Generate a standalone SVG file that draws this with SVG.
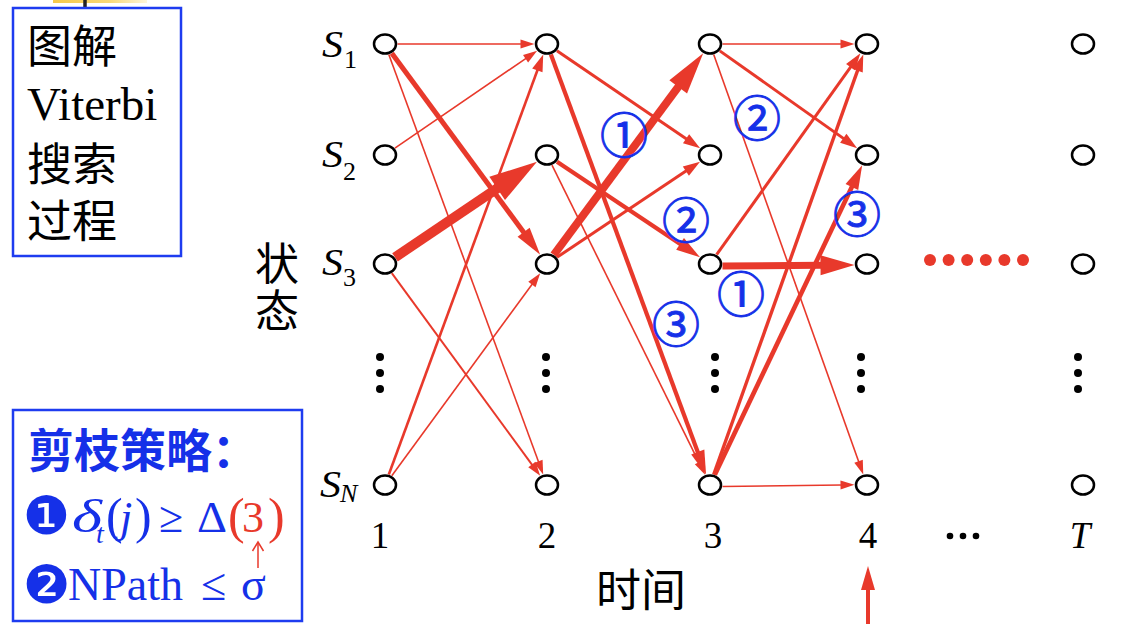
<svg xmlns="http://www.w3.org/2000/svg" width="1134" height="644" viewBox="0 0 1134 644">
<style>
.nd{fill:#fff;stroke:#000;stroke-width:2.5}
.e{fill:none;stroke:#E8392B;stroke-linecap:butt}
.t1{stroke-width:1.6;marker-end:url(#mt)}
.t2{stroke-width:3;marker-end:url(#mm)}
.t3{stroke-width:4.2;marker-end:url(#mk)}
.ser{font-family:"Liberation Serif","Times New Roman",serif}
.it{font-style:italic}
.cjk{font-family:"Noto Sans CJK SC","Noto Sans CJK JP",sans-serif}
.blue{fill:#1530E8}
.red{fill:#E8392B}
.cn{font-family:"Noto Sans CJK SC",sans-serif;font-size:48px;fill:#1530E8;stroke:#1530E8;stroke-width:0.9;text-anchor:middle}
.dot{fill:#000}
.box{fill:none;stroke:#1E3CF0;stroke-width:2.5}
.sl{font-size:38px}
.sub{font-size:26px}
</style>
<defs>
<linearGradient id="yg" x1="0" x2="1" y1="0" y2="0">
<stop offset="0" stop-color="#F6C94A"/><stop offset="0.6" stop-color="#F8D878"/><stop offset="1" stop-color="#FFF6DA"/>
</linearGradient>
<marker id="mt" markerUnits="userSpaceOnUse" orient="auto" viewBox="-2 -10 20 20" markerWidth="20" markerHeight="20" refX="0" refY="0"><path d="M-1,-4.5 L13,0 L-1,4.5 Z" fill="#E8392B"/></marker>
<marker id="mm" markerUnits="userSpaceOnUse" orient="auto" viewBox="-2 -10 24 20" markerWidth="24" markerHeight="20" refX="0" refY="0"><path d="M-1,-5.5 L16,0 L-1,5.5 Z" fill="#E8392B"/></marker>
<marker id="mk" markerUnits="userSpaceOnUse" orient="auto" viewBox="-2 -10 30 20" markerWidth="30" markerHeight="20" refX="0" refY="0"><path d="M-1,-7 L23,0 L-1,7 Z" fill="#E8392B"/></marker>
<marker id="mk3" markerUnits="userSpaceOnUse" orient="auto" viewBox="-2 -10 34 20" markerWidth="34" markerHeight="20" refX="0" refY="0"><path d="M-1,-7.5 L27,0 L-1,7.5 Z" fill="#E8392B"/></marker>
<marker id="m48" markerUnits="userSpaceOnUse" orient="auto" viewBox="-2 -16 54 32" markerWidth="54" markerHeight="32" refX="0" refY="0"><path d="M-1,-14 L47,0 L-1,14 Z" fill="#E8392B"/></marker>
<marker id="m42" markerUnits="userSpaceOnUse" orient="auto" viewBox="-2 -13 48 26" markerWidth="48" markerHeight="26" refX="0" refY="0"><path d="M-1,-11 L41,0 L-1,11 Z" fill="#E8392B"/></marker>
<marker id="m34" markerUnits="userSpaceOnUse" orient="auto" viewBox="-2 -12 40 24" markerWidth="40" markerHeight="24" refX="0" refY="0"><path d="M-1,-10 L33,0 L-1,10 Z" fill="#E8392B"/></marker>
</defs>
<rect width="1134" height="644" fill="#fff"/>
<!-- top artifact -->
<rect x="53" y="0" width="94" height="3" fill="url(#yg)"/>
<line x1="85" y1="0" x2="85" y2="8" stroke="#222" stroke-width="3.5"/>

<!-- left boxes -->
<g id="title-box">
<rect class="box" x="13" y="8" width="168" height="248"/>
<text class="cjk" x="27" y="63" font-size="45">图解</text>
<text class="ser" x="27" y="120" font-size="47">Viterbi</text>
<text class="cjk" x="27" y="181" font-size="45">搜索</text>
<text class="cjk" x="27" y="238" font-size="45">过程</text>
</g>
<g id="prune-box">
<rect class="box" x="13" y="410" width="289" height="211"/>
<text class="cjk blue" x="28" y="467" font-size="46" font-weight="bold">剪枝策略：</text>
<text x="46.5" y="534" font-family="DejaVu Sans,sans-serif" font-size="53" text-anchor="middle" class="blue">❶</text>
<text class="ser blue" y="532" font-size="44"><tspan class="it" x="72" font-size="46" textLength="30" lengthAdjust="spacingAndGlyphs">δ</tspan><tspan class="it" x="96" y="543" font-size="28">t</tspan><tspan x="106" y="533" font-size="50">(</tspan><tspan class="it" x="120" y="532">j</tspan><tspan x="135" y="533" font-size="50">)</tspan><tspan x="159" y="532">≥</tspan><tspan x="197" textLength="30" lengthAdjust="spacingAndGlyphs">Δ</tspan><tspan class="red" x="228" y="533" font-size="50">(</tspan><tspan class="red" x="242" y="532">3</tspan><tspan class="red" x="268" y="533" font-size="50">)</tspan></text>
<line x1="258" y1="568" x2="258" y2="543" stroke="#E8392B" stroke-width="1.5"/>
<polyline points="252.5,551 258,542 263.5,551" fill="none" stroke="#E8392B" stroke-width="1.5"/>
<text x="46.5" y="603" font-family="DejaVu Sans,sans-serif" font-size="53" text-anchor="middle" class="blue">❷</text>
<text class="ser blue" y="600" font-size="46"><tspan x="68">NPath</tspan><tspan x="201">≤</tspan><tspan x="241">σ</tspan></text>
</g>

<!-- row labels -->
<g id="row-labels" class="ser">
<text class="sl it" x="322" y="57" textLength="21" lengthAdjust="spacingAndGlyphs">S</text><text class="sub" x="344" y="68">1</text>
<text class="sl it" x="322" y="167" textLength="21" lengthAdjust="spacingAndGlyphs">S</text><text class="sub" x="343" y="180">2</text>
<text class="sl it" x="322" y="275" textLength="21" lengthAdjust="spacingAndGlyphs">S</text><text class="sub" x="343" y="286">3</text>
<text class="sl it" x="320" y="497" textLength="21" lengthAdjust="spacingAndGlyphs">S</text><text class="sub it" x="340" y="502">N</text>
</g>
<g id="col-labels" class="ser" font-size="37" text-anchor="middle">
<text x="380" y="548">1</text>
<text x="547" y="548">2</text>
<text x="713" y="548">3</text>
<text x="868" y="548">4</text>
<text x="1080" y="548" class="it">T</text>
</g>
<text class="cjk" x="255" y="280" font-size="44">状</text>
<text class="cjk" x="255" y="327" font-size="44">态</text>
<text class="cjk" x="596" y="607" font-size="45">时间</text>

<!-- ellipsis dots -->
<g id="dots">
<circle class="dot" cx="380" cy="357" r="4"/><circle class="dot" cx="380" cy="373" r="4"/><circle class="dot" cx="380" cy="389" r="4"/>
<circle class="dot" cx="546" cy="357" r="4"/><circle class="dot" cx="546" cy="373" r="4"/><circle class="dot" cx="546" cy="389" r="4"/>
<circle class="dot" cx="715" cy="357" r="4"/><circle class="dot" cx="715" cy="373" r="4"/><circle class="dot" cx="715" cy="389" r="4"/>
<circle class="dot" cx="861" cy="357" r="4"/><circle class="dot" cx="861" cy="373" r="4"/><circle class="dot" cx="861" cy="389" r="4"/>
<circle class="dot" cx="1078" cy="357" r="4"/><circle class="dot" cx="1078" cy="373" r="4"/><circle class="dot" cx="1078" cy="389" r="4"/>
<circle class="dot" cx="950" cy="536" r="3.3"/><circle class="dot" cx="963" cy="536" r="3.3"/><circle class="dot" cx="976" cy="536" r="3.3"/>
<g fill="#E8392B">
<circle cx="930" cy="260" r="6"/><circle cx="948.6" cy="260" r="6"/><circle cx="967.2" cy="260" r="6"/><circle cx="985.8" cy="260" r="6"/><circle cx="1004.4" cy="260" r="6"/><circle cx="1023" cy="260" r="6"/>
</g>
</g>

<!-- connectors -->
<g id="connectors">
<path class="e t1" d="M397.5,44 L521.5,44"/>
<path class="e t1" d="M394.9,148.2 L526.4,58.1"/>
<path class="e t1" d="M388.8,54.5 L538.7,462.3"/>
<path class="e t1" style="stroke-width:2" d="M391.8,273.2 L532.5,465.3"/>
<path class="e t1" d="M391.8,475.8 L532.5,283.7"/>
<path class="e t1" d="M552,165.1 L699.3,463.2"/>
<path class="e t1" d="M722.5,44 L841.5,44"/>
<path class="e t1" d="M713.7,54.5 L858.9,462.3"/>
<path class="e t1" d="M722.5,486.5 L841.5,485"/>
<path class="e t2" style="stroke-width:2.6" d="M388.8,474.5 L537.7,69.5"/>
<path class="e t2" d="M556.9,50.8 L686.9,139.3"/>
<path class="e t2" d="M557,257.3 L686.7,170.6"/>
<path class="e t2" d="M719.8,50.9 L844.1,138.9"/>
<path class="e t2" d="M716.6,254.7 L851.1,66.3"/>
<path class="e t2" style="stroke-width:3.4" d="M713.7,474.5 L857.9,69.6"/>
<path class="e t3" d="M550.9,54.5 L698.1,452.9"/>
<path class="e t3" d="M557,161.7 L680.9,244.5"/>
<path class="e t3" style="stroke-width:4.6" d="M714.8,474.8 L852.3,186"/>
<path class="e" style="stroke-width:5;marker-end:url(#mk3)" d="M391.8,53.2 L524.2,233.1"/>
<path class="e" style="stroke-width:10;marker-end:url(#m48)" d="M395,257.3 L498,187.9"/>
<path class="e" style="stroke-width:8;marker-end:url(#m42)" d="M553.8,254.8 L678.8,86.1"/>
<path class="e" style="stroke-width:7;marker-end:url(#m34)" d="M722.5,266 L821.5,265.2"/>
<line x1="868" y1="624" x2="868" y2="588" stroke="#E8392B" stroke-width="4"/>
<polygon points="861,590 868,566 875,590" fill="#E8392B"/>
</g>

<!-- circled step labels -->
<g id="step-labels">
<text class="cn" x="624" y="153">①</text>
<text class="cn" x="757" y="136">②</text>
<text class="cn" x="686" y="238">②</text>
<text class="cn" x="857" y="232">③</text>
<text class="cn" x="741" y="312">①</text>
<text class="cn" x="676" y="342">③</text>
</g>

<!-- nodes -->
<g id="n-1-1"><ellipse class="nd" cx="385" cy="44" rx="11" ry="9.5"/></g>
<g id="n-1-2"><ellipse class="nd" cx="385" cy="155" rx="11" ry="9.5"/></g>
<g id="n-1-3"><ellipse class="nd" cx="385" cy="264" rx="11" ry="9.5"/></g>
<g id="n-1-N"><ellipse class="nd" cx="385" cy="485" rx="11" ry="9.5"/></g>
<g id="n-2-1"><ellipse class="nd" cx="547" cy="44" rx="11" ry="9.5"/></g>
<g id="n-2-2"><ellipse class="nd" cx="547" cy="155" rx="11" ry="9.5"/></g>
<g id="n-2-3"><ellipse class="nd" cx="547" cy="264" rx="11" ry="9.5"/></g>
<g id="n-2-N"><ellipse class="nd" cx="547" cy="485" rx="11" ry="9.5"/></g>
<g id="n-3-1"><ellipse class="nd" cx="710" cy="44" rx="11" ry="9.5"/></g>
<g id="n-3-2"><ellipse class="nd" cx="710" cy="155" rx="11" ry="9.5"/></g>
<g id="n-3-3"><ellipse class="nd" cx="710" cy="264" rx="11" ry="9.5"/></g>
<g id="n-3-N"><ellipse class="nd" cx="710" cy="485" rx="11" ry="9.5"/></g>
<g id="n-4-1"><ellipse class="nd" cx="867" cy="44" rx="11" ry="9.5"/></g>
<g id="n-4-2"><ellipse class="nd" cx="867" cy="155" rx="11" ry="9.5"/></g>
<g id="n-4-3"><ellipse class="nd" cx="867" cy="264" rx="11" ry="9.5"/></g>
<g id="n-4-N"><ellipse class="nd" cx="867" cy="485" rx="11" ry="9.5"/></g>
<g id="n-T-1"><ellipse class="nd" cx="1083" cy="44" rx="11" ry="9.5"/></g>
<g id="n-T-2"><ellipse class="nd" cx="1083" cy="155" rx="11" ry="9.5"/></g>
<g id="n-T-3"><ellipse class="nd" cx="1083" cy="264" rx="11" ry="9.5"/></g>
<g id="n-T-N"><ellipse class="nd" cx="1083" cy="485" rx="11" ry="9.5"/></g>
</svg>
